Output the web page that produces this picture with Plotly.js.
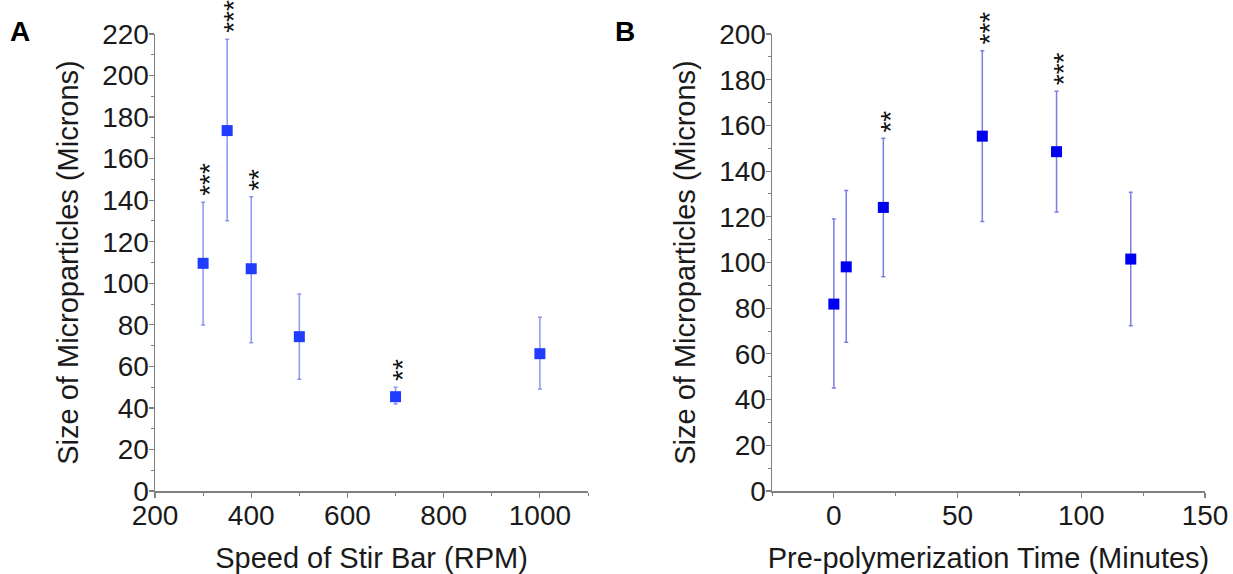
<!DOCTYPE html>
<html>
<head>
<meta charset="utf-8">
<script src="https://cdn.plot.ly/plotly-3.0.1.min.js"></script>
<style>html,body{margin:0;padding:0;background:#fff;}#chart{width:1233px;height:574px;}</style>
</head>
<body>
<div id="chart"></div>
<script>
// Panel A: speed of stir bar
const speedRPM = [300, 350, 400, 500, 700, 1000];
const sizeA = [109.6, 173.5, 107, 74.3, 45.4, 66.1];
const errAUp = [29.4, 44, 34.7, 20.5, 4.5, 17.5];
const errADown = [29.7, 43.4, 35.6, 20.5, 3.5, 17];
const starsA = ['***', '***', '**', '', '**', ''];

// Panel B: pre-polymerization time
const timeMin = [0, 5, 20, 60, 90, 120];
const sizeB = [81.8, 98.1, 124.1, 155.3, 148.5, 101.5];
const errBUp = [37.2, 33.4, 30.3, 37.4, 26.5, 29.2];
const errBDown = [36.7, 33, 30.3, 37.4, 26.4, 29.2];
const starsB = ['', '', '**', '***', '***', ''];

const FONT = 'Liberation Sans, Arial, sans-serif';
const axisCol = '#808080';

const traceA = {
  x: speedRPM, y: sizeA, type: 'scatter', mode: 'markers',
  xaxis: 'x', yaxis: 'y',
  marker: {symbol: 'square', size: 11, color: '#1f3cff'},
  error_y: {type: 'data', symmetric: false, array: errAUp, arrayminus: errADown,
            color: 'rgb(140,150,240)', thickness: 1.5, width: 2}
};
const traceB = {
  x: timeMin, y: sizeB, type: 'scatter', mode: 'markers',
  xaxis: 'x2', yaxis: 'y2',
  marker: {symbol: 'square', size: 11, color: '#0000f0'},
  error_y: {type: 'data', symmetric: false, array: errBUp, arrayminus: errBDown,
            color: 'rgb(125,125,230)', thickness: 1.5, width: 2}
};

function starNotes(xs, ys, ups, stars, xref, yref) {
  const out = [];
  xs.forEach((x, i) => {
    if (!stars[i]) return;
    out.push({
      x: x, y: ys[i] + ups[i], xref: xref, yref: yref,
      text: stars[i], showarrow: false, textangle: -90,
      xanchor: 'center', yanchor: 'bottom', yshift: 4, xshift: 7,
      font: {family: FONT, size: 28, color: '#111'}
    });
  });
  return out;
}

const baseAxis = {
  showgrid: false, zeroline: false, showline: true, linecolor: axisCol, linewidth: 1.5,
  ticks: 'outside', ticklen: 5, tickwidth: 1.2, tickcolor: axisCol,
  tickfont: {family: FONT, size: 28, color: '#1a1a1a'},
  fixedrange: true
};
const titleFont = {family: FONT, size: 29, color: '#1a1a1a'};

const layout = {
  width: 1233, height: 574,
  margin: {l: 0, r: 0, t: 0, b: 0},
  paper_bgcolor: '#fff', plot_bgcolor: '#fff',
  showlegend: false,
  xaxis: Object.assign({}, baseAxis, {
    domain: [155/1233, 588/1233], range: [200, 1100], dtick: 200, tick0: 200,
    anchor: 'y', ticklabelstandoff: -6,
    minor: {dtick: 100, ticks: 'outside', ticklen: 3, tickcolor: axisCol, tickwidth: 1},
    title: {text: 'Speed of Stir Bar (RPM)', font: titleFont, standoff: 24}
  }),
  yaxis: Object.assign({}, baseAxis, {
    domain: [83/574, 540/574], range: [0, 220], dtick: 20, anchor: 'x', ticklabelstandoff: -6,
    minor: {dtick: 10, ticks: 'outside', ticklen: 3, tickcolor: axisCol, tickwidth: 1},
    title: {text: 'Size of Microparticles (Microns)', font: titleFont, standoff: 15}
  }),
  xaxis2: Object.assign({}, baseAxis, {
    domain: [772/1233, 1205/1233], range: [-25, 150], dtick: 50, tick0: 0,
    anchor: 'y2', ticklabelstandoff: -6,
    minor: {dtick: 25, ticks: 'outside', ticklen: 3, tickcolor: axisCol, tickwidth: 1},
    title: {text: 'Pre-polymerization Time (Minutes)', font: titleFont, standoff: 24}
  }),
  yaxis2: Object.assign({}, baseAxis, {
    domain: [83/574, 540/574], range: [0, 200], dtick: 20, anchor: 'x2', ticklabelstandoff: -6,
    minor: {dtick: 10, ticks: 'outside', ticklen: 3, tickcolor: axisCol, tickwidth: 1},
    title: {text: 'Size of Microparticles (Microns)', font: titleFont, standoff: 15}
  }),
  annotations: [
    {text: '<b>A</b>', xref: 'paper', yref: 'paper', x: 8/1233, y: 1 - 14/574,
     xanchor: 'left', yanchor: 'top', showarrow: false, font: {family: FONT, size: 28, color: '#000'}},
    {text: '<b>B</b>', xref: 'paper', yref: 'paper', x: 613/1233, y: 1 - 14/574,
     xanchor: 'left', yanchor: 'top', showarrow: false, font: {family: FONT, size: 28, color: '#000'}}
  ].concat(starNotes(speedRPM, sizeA, errAUp, starsA, 'x', 'y'))
   .concat(starNotes(timeMin, sizeB, errBUp, starsB, 'x2', 'y2'))
};

Plotly.newPlot('chart', [traceA, traceB], layout, {displayModeBar: false, staticPlot: true});
</script>
</body>
</html>
